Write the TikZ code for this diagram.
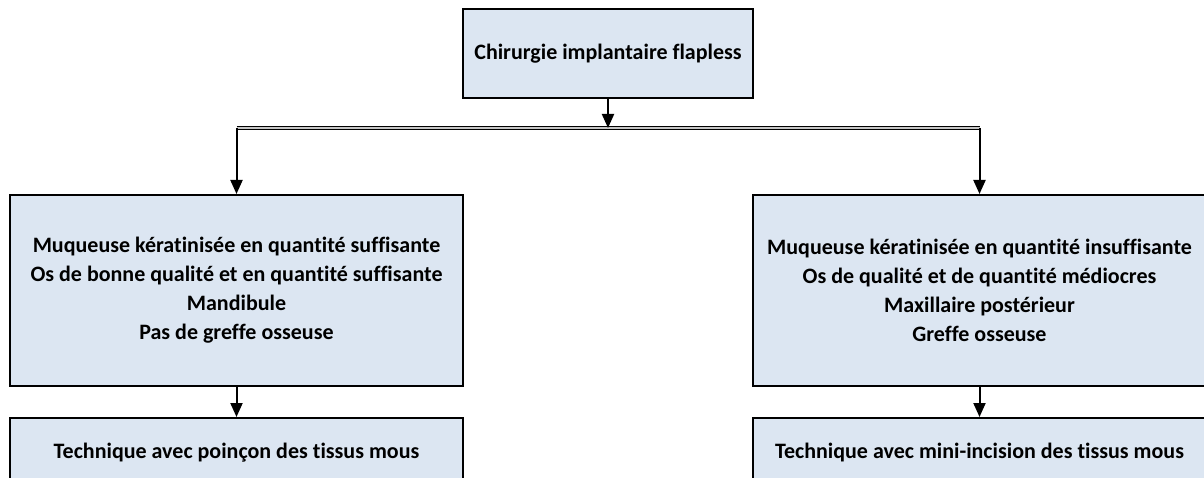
\documentclass[tikz,border=0pt]{standalone}
\usepackage{fontspec}
\setmainfont[Ligatures=NoCommon]{Carlito}
\usetikzlibrary{arrows.meta}

\definecolor{boxfill}{HTML}{DCE6F2}

\begin{document}
\begin{tikzpicture}[x=1pt,y=-1pt,
	box/.style={draw=black,line width=2pt,fill=boxfill,align=center,inner sep=0pt,
		font=\fontsize{22}{29}\selectfont\bfseries},
	link/.style={line width=2pt,-{Triangle[length=14pt,width=12pt]}}]
	\clip (0,0) rectangle (1204,478);
	\node[box,minimum width=290pt,minimum height=89pt] (root) at (608,53.5)
		{Chirurgie implantaire flapless};
	\node[box,minimum width=453pt,minimum height=191pt] (lcase) at (236.5,290.5)
		{Muqueuse kératinisée en quantité suffisante\\
		Os de bonne qualité et en quantité suffisante\\
		Mandibule\\Pas de greffe osseuse};
	\node[box,minimum width=453pt,minimum height=191pt] (rcase) at (979.5,290.5)
		{Muqueuse kératinisée en quantité insuffisante\\
		Os de qualité et de quantité médiocres\\
		Maxillaire postérieur\\Greffe osseuse};
	\node[box,minimum width=453pt,minimum height=70pt] (ltech) at (236.5,453)
		{Technique avec poinçon des tissus mous};
	\node[box,minimum width=453pt,minimum height=70pt] (rtech) at (979.5,453)
		{Technique avec mini-incision des tissus mous};
	% split under the root box
	\coordinate (split) at (608,128);
	\draw[line width=1pt,double=gray!45,double distance=1.5pt]
		(lcase.north |- split) -- (rcase.north |- split);
	\draw[link] (root) -- (split);
	\draw[link] (lcase.north |- split) -- (lcase);
	\draw[link] (rcase.north |- split) -- (rcase);
	\draw[link] (lcase) -- (ltech);
	\draw[link] (rcase) -- (rtech);
\end{tikzpicture}
\end{document}
